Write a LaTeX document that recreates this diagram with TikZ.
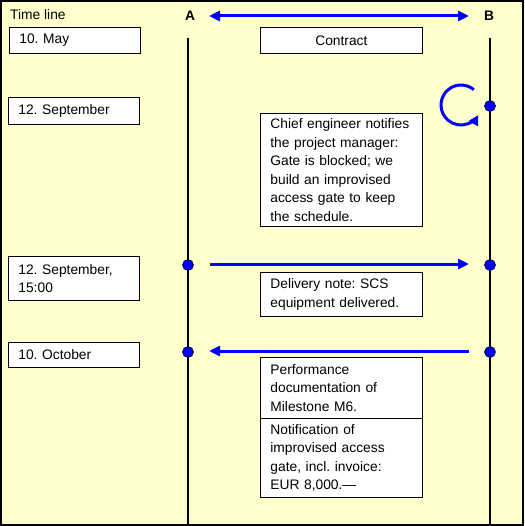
\documentclass[tikz,border=0pt]{standalone}
\usepackage{fontspec}
\setmainfont{Liberation Sans}
\usetikzlibrary{arrows.meta}
\definecolor{bgyellow}{RGB}{255,255,206}
\definecolor{arrblue}{RGB}{0,0,255}
\frenchspacing
\begin{document}
\begin{tikzpicture}[x=1pt,y=-1pt,
  every node/.style={font=\fontsize{13.8}{18.5}\selectfont},
  box/.style={draw=black,line width=0.8pt,fill=white,anchor=north west,align=left,inner xsep=10pt,inner ysep=2pt},
  lifeline/.style={line width=2.6pt,black},
  msg/.style={line width=3pt,arrblue,-{Triangle[length=11pt,width=10pt]}},
  dot/.style={circle,fill=arrblue,draw=black,line width=0.6pt,inner sep=0pt,minimum size=11pt}
]
\useasboundingbox (0,0) rectangle (524,526);
\fill[bgyellow] (0,0) rectangle (524,526);
\draw[line width=2pt] (1,1) rectangle (523,525);

\node[anchor=base west,inner sep=0pt] (tl) at (10,20) {Time line};
\node[anchor=base,inner sep=0pt,font=\fontsize{13.8}{18}\bfseries] (A) at (190,21) {A};
\node[anchor=base,inner sep=0pt,font=\fontsize{13.8}{18}\bfseries] (B) at (489,21) {B};
\coordinate (hl) at (209,16);
\coordinate (hr) at (469,16);
\draw[line width=3pt,arrblue,{Triangle[length=11pt,width=10pt]}-{Triangle[length=11pt,width=10pt]}] (hl) -- (hr);

% lifelines
\coordinate (Atop) at (188,38);
\coordinate (Abot) at (188,525);
\coordinate (Btop) at (490,38);
\coordinate (Bbot) at (490,525);
\draw[lifeline] (Atop) -- (Abot);
\draw[lifeline] (Btop) -- (Bbot);

% date boxes
\node[box,text width=111pt,minimum height=26pt] (d1) at (9,27) {10. May};
\node[box,text width=111pt,minimum height=27pt] (d2) at (8,97) {12. September};
\node[box,text width=111pt,minimum height=44pt] (d3) at (8,256) {12. September,\\15:00};
\node[box,text width=111pt,minimum height=25pt] (d4) at (8,342) {10. October};

% message boxes
\node[box,align=center,text width=142pt,minimum height=26pt] (m1) at (260,27) {Contract};
\node[box,text width=142pt,minimum height=113pt] (m2) at (260,113) {Chief engineer notifies\\the project manager:\\Gate is blocked; we\\build an improvised\\access gate to keep\\the schedule.};
\node[box,text width=142pt,minimum height=44pt] (m3) at (260,272) {Delivery note: SCS\\equipment delivered.};
\node[box,text width=142pt,minimum height=61pt] (m4) at (260,357) {Performance\\documentation of\\Milestone M6.};
\node[box,text width=142pt,minimum height=79pt] (m5) at (260,418) {Notification of\\improvised access\\gate, incl. invoice:\\EUR 8,000.---};

% self loop at B
\node[dot] (b1) at (490,106) {};
\draw[line width=3pt,arrblue,-{Triangle[length=10pt,width=10pt]}] ([shift={(-50:20)}]461,105) arc[start angle=-50,end angle=-330,radius=20];

% delivery message
\node[dot] (a2) at (188,265) {};
\node[dot] (b2) at (490,265) {};
\coordinate (s2) at (210,264);
\coordinate (e2) at (469,264);
\draw[msg] (s2) -- (e2);

% October message
\node[dot] (a3) at (188,352) {};
\node[dot] (b3) at (490,352) {};
\coordinate (s3) at (469,351);
\coordinate (e3) at (209,351);
\draw[msg] (s3) -- (e3);
\end{tikzpicture}
\end{document}
